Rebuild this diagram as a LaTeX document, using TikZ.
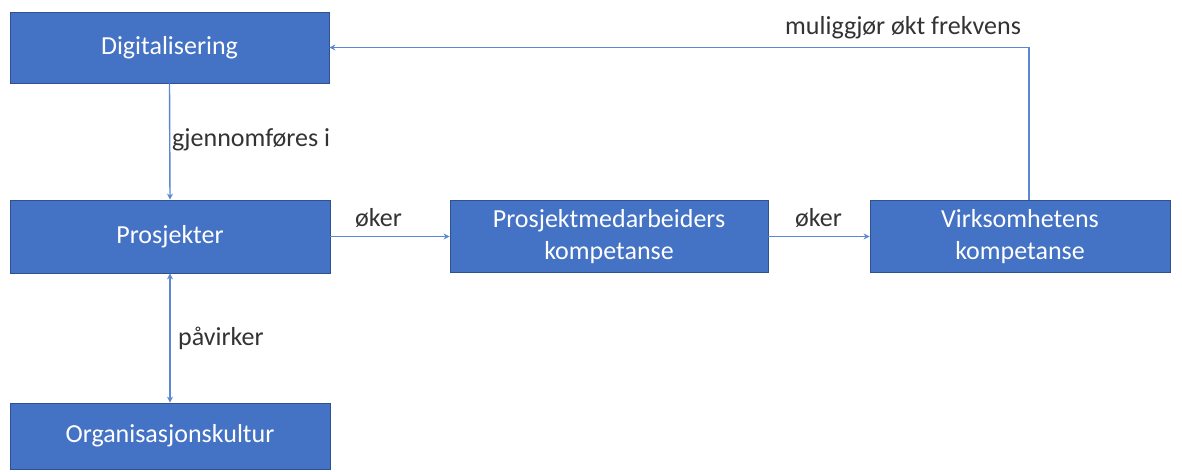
\documentclass[tikz,border=0pt]{standalone}
\usepackage{fontspec}
\setmainfont{Carlito}
\usetikzlibrary{arrows.meta,calc}
\definecolor{boxfill}{HTML}{4472C4}
\definecolor{boxline}{HTML}{2F528F}
\definecolor{linecol}{HTML}{5B87D3}
\definecolor{labcol}{HTML}{333333}
\begin{document}
\begin{tikzpicture}[x=1pt,y=1pt,
  box/.style={draw=boxline,line width=0.8pt,fill=boxfill,text=white,align=center,font=\fontsize{26}{32}\selectfont,inner sep=0pt},
  conn/.style={draw=linecol,line width=1.4pt,-{Stealth[length=6pt,width=6pt]}},
  lab/.style={text=labcol,font=\fontsize{26}{32}\selectfont,inner sep=0pt}]
\useasboundingbox (0,0) rectangle (1182,471);
\node[box,minimum width=319pt,minimum height=71pt] (dig) at (169.5,423.5) {Digitalisering};
\node[box,minimum width=320pt,minimum height=73pt] (pro) at (170,234.5) {Prosjekter};
\node[box,minimum width=320pt,minimum height=66pt] (org) at (170,35) {Organisasjonskultur};
\node[box,minimum width=318pt,minimum height=72pt] (pm) at (609,234.5) {Prosjektmedarbeiders\\kompetanse};
\node[box,minimum width=300pt,minimum height=72pt] (vk) at (1020,234.5) {Virksomhetens\\kompetanse};
\draw[conn] (dig.south) -- (pro.north);
\draw[conn,{Stealth[length=6pt,width=6pt]}-{Stealth[length=6pt,width=6pt]}] (pro.south) -- (org.north);
\draw[conn] (pro.east) -- (pm.west);
\draw[conn] (pm.east) -- (vk.west);
\draw[conn] ([xshift=9pt]vk.north) |- (dig.east);
\node[lab,anchor=west] (l1) at (172,331) {gjennomføres i};
\node[lab,anchor=west] (l2) at (178,133) {påvirker};
\node[lab,anchor=west] (l3) at (355,253) {øker};
\node[lab,anchor=west] (l4) at (795,253) {øker};
\node[lab,anchor=west] (l5) at (785,443) {muliggjør økt frekvens};
\end{tikzpicture}
\end{document}
